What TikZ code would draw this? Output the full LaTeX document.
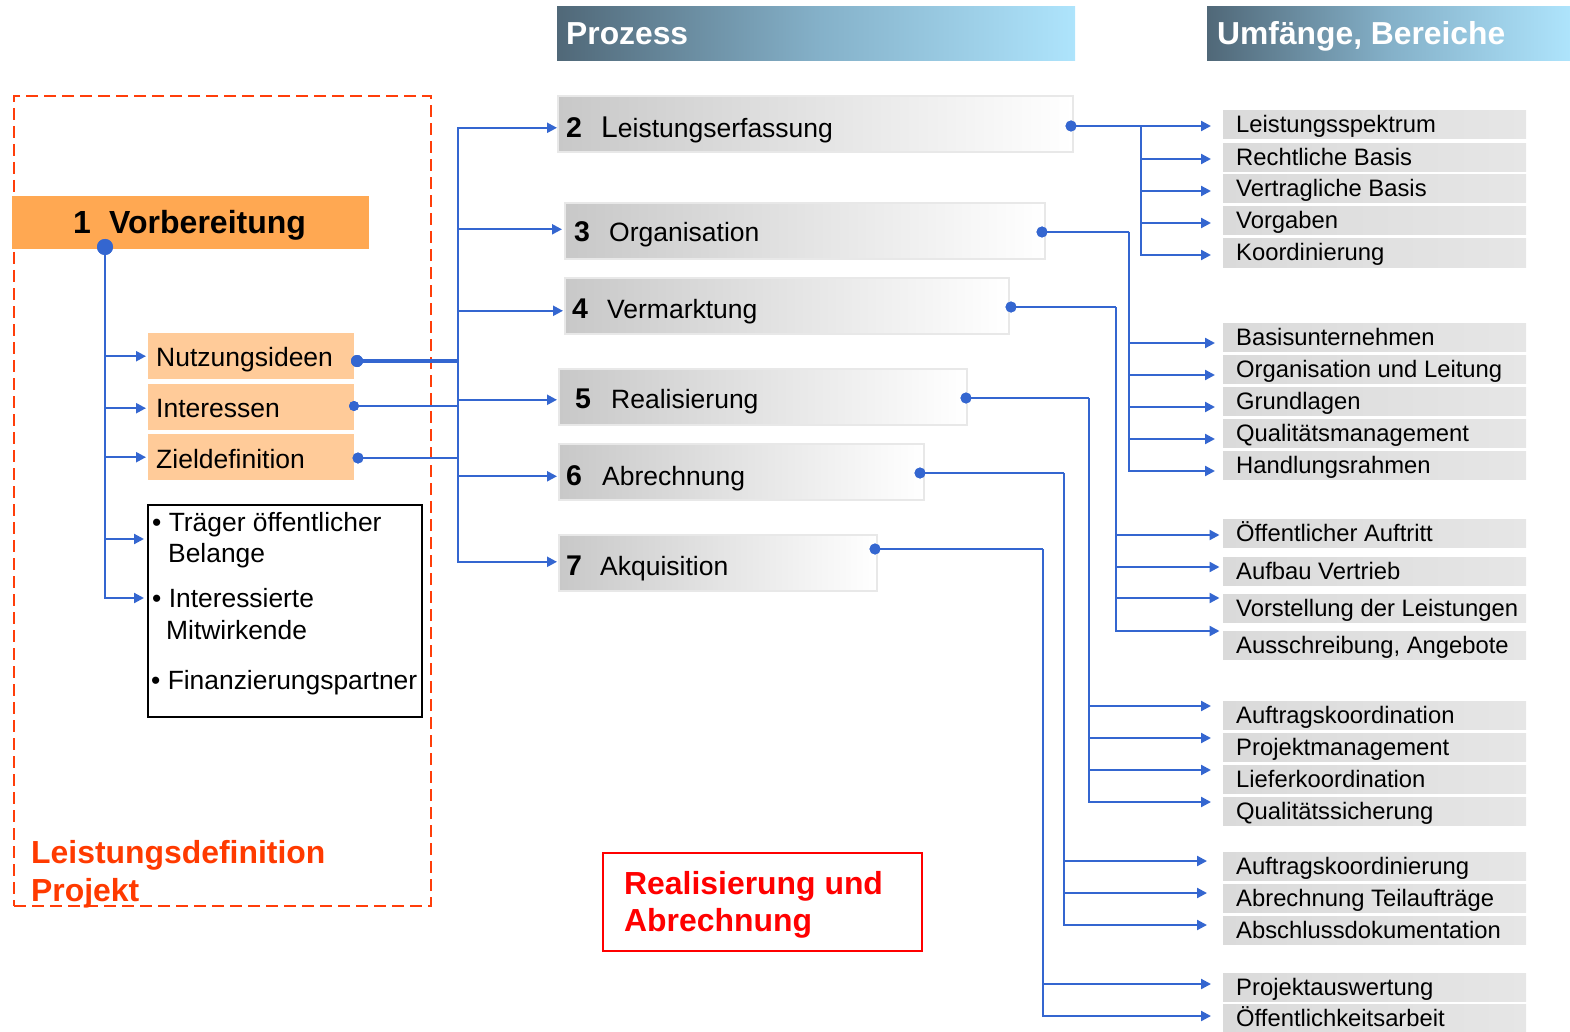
\documentclass[tikz,border=0pt]{standalone}
\usepackage{fontspec}
\setmainfont{Liberation Sans}
\usetikzlibrary{arrows.meta}
\definecolor{lineblue}{RGB}{52,102,208}
\definecolor{dashred}{RGB}{255,62,10}
\definecolor{labelred}{RGB}{255,58,0}
\definecolor{boxred}{RGB}{255,0,0}
\definecolor{orangeA}{RGB}{255,168,82}
\definecolor{orangeB}{RGB}{255,203,153}
\definecolor{hdark}{RGB}{80,104,120}
\definecolor{hmid}{RGB}{132,176,200}
\definecolor{hlight}{RGB}{174,228,252}
\definecolor{pgrey}{RGB}{200,200,200}
\definecolor{pborder}{RGB}{232,232,232}
\definecolor{lgreyA}{RGB}{218,218,218}
\definecolor{lgreyB}{RGB}{230,230,230}
\newcommand\ritem[3]{%
  \node[lbox] (#1) at (1223,#2) {};
  \node[ltext] (#1t) at ([xshift=13pt,yshift=-8pt]#1.west) {#3};}
\begin{document}
\begin{tikzpicture}[x=1pt,y=-1pt,
  conn/.style={draw=lineblue,line width=2.2pt},
  arr/.style={conn,-{Triangle[length=10pt,width=10pt]}},
  bdot/.style={circle,fill=lineblue,inner sep=0pt,minimum size=11pt},
  hdr/.style={anchor=north west,inner sep=0pt,minimum height=54pt,left color=hdark,right color=hlight,middle color=hmid},
  hdrtext/.style={anchor=base west,inner sep=0pt,text=white,font=\fontsize{31.8}{36}\selectfont\bfseries},
  pbox/.style={anchor=north west,inner sep=0pt,minimum height=56pt,left color=pgrey,right color=white,draw=pborder,line width=1.6pt},
  pnum/.style={anchor=base west,inner sep=0pt,font=\fontsize{28.5}{32}\selectfont\bfseries},
  ptext/.style={anchor=base west,inner sep=0pt,font=\fontsize{26.5}{30}\selectfont},
  lbox/.style={anchor=west,inner sep=0pt,minimum height=28pt,minimum width=303pt,left color=lgreyA,right color=lgreyB},
  ltext/.style={anchor=base west,inner sep=0pt,font=\fontsize{23.8}{27}\selectfont},
  obox/.style={anchor=north west,inner sep=0pt,minimum width=206pt,minimum height=46pt,fill=orangeB},
  otext/.style={anchor=base west,inner sep=0pt,font=\fontsize{26.5}{30}\selectfont},
  btext/.style={anchor=base west,inner sep=0pt,font=\fontsize{26.4}{30}\selectfont},
  bigred/.style={anchor=base west,inner sep=0pt,font=\fontsize{31.9}{36}\selectfont\bfseries}
]
\useasboundingbox (0,0) rectangle (1570,1032);

% headers
\node[hdr,minimum width=518pt] (hproz) at (557,6) {};
\node[hdrtext] (hprozt) at (566,45) {Prozess};
\node[hdr,minimum width=363pt] (humf) at (1207,6) {};
\node[hdrtext] (humft) at (1217,45) {Umfänge, Bereiche};

% left frame
\node[anchor=north west,inner sep=0pt,minimum width=417pt,minimum height=810pt,draw=dashred,line width=2pt,dash pattern=on 12pt off 6pt] (frame) at (13,95) {};
\node[bigred,text=labelred] (ld1) at (31,863) {Leistungsdefinition};
\node[bigred,text=labelred] (ld2) at (31,901) {Projekt};

% Vorbereitung
\node[anchor=north west,inner sep=0pt,minimum width=357pt,minimum height=53pt,fill=orangeA] (vorb) at (12,196) {};
\node[anchor=base west,inner sep=0pt,font=\fontsize{32}{36}\selectfont\bfseries] (vorbn) at (73,234) {1};
\node[anchor=base west,inner sep=0pt,font=\fontsize{32}{36}\selectfont\bfseries] (vorbt) at (109,234) {Vorbereitung};

\node[obox] (nutz) at (148,333) {};
\node[otext] (nutzt) at (156,366) {Nutzungsideen};
\node[obox] (inter) at (148,384) {};
\node[otext] (intert) at (156,417) {Interessen};
\node[obox] (ziel) at (148,434) {};
\node[otext] (zielt) at (156,468) {Zieldefinition};

\node[anchor=north west,inner sep=0pt,minimum width=274pt,minimum height=212pt,draw=black,line width=2pt] (traeger) at (147,504) {};
\node[btext] (tr1) at (152,531) {• Träger öffentlicher};
\node[btext] (tr2) at (168,562) {Belange};
\node[btext] (tr3) at (152,607) {• Interessierte};
\node[btext] (tr4) at (166,639) {Mitwirkende};
\node[btext] (tr5) at (151,689) {• Finanzierungspartner};
\coordinate (t1) at (147,539);
\coordinate (t2) at (147,598);

% process boxes
\node[pbox,minimum width=515pt] (p2) at (557,95) {};
\node[pnum] (p2n) at (566,138) {2};
\node[ptext] (p2t) at (601,138) {{\fontsize{30}{32}\selectfont L}eistungserfassung};
\node[pbox,minimum width=480pt] (p3) at (564,202) {};
\node[pnum] (p3n) at (574,242) {3};
\node[ptext] (p3t) at (609,242) {Organisation};
\node[pbox,minimum width=444pt] (p4) at (564,277) {};
\node[pnum] (p4n) at (572,318) {4};
\node[ptext] (p4t) at (607,318) {Vermarktung};
\node[pbox,minimum width=408pt] (p5) at (558,368) {};
\node[pnum] (p5n) at (575,408) {5};
\node[ptext] (p5t) at (611,408) {Realisierung};
\node[pbox,minimum width=365pt] (p6) at (558,443) {};
\node[pnum] (p6n) at (566,485) {6};
\node[ptext] (p6t) at (602,485) {Abrechnung};
\node[pbox,minimum width=318pt] (p7) at (558,534) {};
\node[pnum] (p7n) at (566,575) {7};
\node[ptext] (p7t) at (600,575) {Akquisition};

% red box
\node[anchor=north west,inner sep=0pt,minimum width=319pt,minimum height=98pt,draw=boxred,line width=2pt] (redbox) at (602,852) {};
\node[bigred,text=boxred] (rb1) at (624,894) {Realisierung und};
\node[bigred,text=boxred] (rb2) at (624,931) {Abrechnung};

% right items
\ritem{r11}{125}{Leistungsspektrum}
\ritem{r12}{157.5}{Rechtliche Basis}
\ritem{r13}{189}{Vertragliche Basis}
\ritem{r14}{221}{Vorgaben}
\ritem{r15}{253}{Koordinierung}
\ritem{r21}{337}{Basisunternehmen}
\ritem{r22}{369}{Organisation und Leitung}
\ritem{r23}{401}{Grundlagen}
\ritem{r24}{433}{Qualitätsmanagement}
\ritem{r25}{465}{Handlungsrahmen}
\ritem{r31}{533.5}{Öffentlicher Auftritt}
\ritem{r32}{571}{Aufbau Vertrieb}
\ritem{r33}{608.5}{Vorstellung der Leistungen}
\ritem{r34}{645.5}{Ausschreibung, Angebote}
\ritem{r41}{715}{Auftragskoordination}
\ritem{r42}{747.5}{Projektmanagement}
\ritem{r43}{779}{Lieferkoordination}
\ritem{r44}{811.5}{Qualitätssicherung}
\ritem{r51}{866}{Auftragskoordinierung}
\ritem{r52}{898}{Abrechnung Teilaufträge}
\ritem{r53}{930}{Abschlussdokumentation}
\ritem{r61}{987.5}{Projektauswertung}
\ritem{r62}{1018.5}{Öffentlichkeitsarbeit}

% dots
\node[bdot,minimum size=16pt] (vd) at (105,247) {};
\node[bdot,minimum size=12pt] (nd) at (357,361) {};
\node[bdot,minimum size=10pt] (idt) at (354,406) {};
\node[bdot,minimum size=11pt] (zd) at (358,458) {};
\node[bdot] (d2) at (1071,126) {};
\node[bdot] (d3) at (1042,232) {};
\node[bdot] (d4) at (1011,307) {};
\node[bdot] (d5) at (966,398) {};
\node[bdot] (d6) at (920,473) {};
\node[bdot] (d7) at (875,549) {};

% junctions
\coordinate (bus) at (458,361);
\coordinate (j1) at (1141,126);
\coordinate (j2) at (1129,232);
\coordinate (j3) at (1116,307);
\coordinate (j4) at (1089,398);
\coordinate (j5) at (1064,473);
\coordinate (j6) at (1043,549);

% Vorbereitung connectors
\draw[arr,shorten >=2pt] (vd.center) |- (nutz.west);
\draw[arr,shorten >=2pt] (vd.center) |- ([yshift=-1pt]inter.west);
\draw[arr,shorten >=2pt] (vd.center) |- (ziel.west);
\draw[arr,shorten >=3pt] (vd.center) |- (t1);
\draw[arr,shorten >=3pt] (vd.center) |- (t2);

% to process bus
\draw[conn,line width=3.8pt] (nd.center) -- (bus);
\draw[conn] (idt.center) -- (idt.center -| bus);
\draw[conn] (zd.center) -- (zd.center -| bus);
\draw[arr] (bus) |- ([yshift=-4pt]p2.west);
\draw[arr,shorten >=2pt] (bus) |- ([yshift=1.5pt]p3.west);
\draw[arr,shorten >=1pt] (bus) |- ([yshift=-5pt]p4.west);
\draw[arr,shorten >=1pt] (bus) |- ([yshift=-3pt]p5.west);
\draw[arr,shorten >=1pt] (bus) |- ([yshift=-4.5pt]p6.west);
\draw[arr,shorten >=1pt] (bus) |- ([yshift=1pt]p7.west);

% group 1
\draw[conn] (d2.center) -- (j1);
\draw[arr,shorten >=12pt] (j1) |- ([yshift=-1pt]r11.west);
\draw[arr,shorten >=12pt] (j1) |- ([yshift=-1.5pt]r12.west);
\draw[arr,shorten >=12pt] (j1) |- ([yshift=-2pt]r13.west);
\draw[arr,shorten >=12pt] (j1) |- ([yshift=-2pt]r14.west);
\draw[arr,shorten >=12pt] (j1) |- ([yshift=-2pt]r15.west);
% group 2
\draw[conn] (d3.center) -- (j2);
\draw[arr,shorten >=8pt] (j2) |- ([yshift=-6pt]r21.west);
\draw[arr,shorten >=8pt] (j2) |- ([yshift=-6pt]r22.west);
\draw[arr,shorten >=8pt] (j2) |- ([yshift=-6pt]r23.west);
\draw[arr,shorten >=8pt] (j2) |- ([yshift=-6pt]r24.west);
\draw[arr,shorten >=8pt] (j2) |- ([yshift=-6pt]r25.west);
% group 3
\draw[conn] (d4.center) -- (j3);
\draw[arr,shorten >=3.5pt] (j3) |- ([yshift=-1.5pt]r31.west);
\draw[arr,shorten >=3.5pt] (j3) |- ([yshift=4pt]r32.west);
\draw[arr,shorten >=3.5pt] (j3) |- ([yshift=10.5pt]r33.west);
\draw[arr,shorten >=3.5pt] (j3) |- ([yshift=14.5pt]r34.west);
% group 4
\draw[conn] (d5.center) -- (j4);
\draw[arr,shorten >=12pt] (j4) |- ([yshift=9pt]r41.west);
\draw[arr,shorten >=12pt] (j4) |- ([yshift=9.5pt]r42.west);
\draw[arr,shorten >=12pt] (j4) |- ([yshift=9pt]r43.west);
\draw[arr,shorten >=12pt] (j4) |- ([yshift=9.5pt]r44.west);
% group 5
\draw[conn] (d6.center) -- (j5);
\draw[arr,shorten >=16pt] (j5) |- ([yshift=5pt]r51.west);
\draw[arr,shorten >=16pt] (j5) |- ([yshift=5pt]r52.west);
\draw[arr,shorten >=16pt] (j5) |- ([yshift=5pt]r53.west);
% group 6
\draw[conn] (d7.center) -- (j6);
\draw[arr,shorten >=12pt] (j6) |- ([yshift=3.5pt]r61.west);
\draw[arr,shorten >=12pt] (j6) |- ([yshift=2.5pt]r62.west);

% redraw dots on top
\fill[lineblue] (vd) circle (8pt) (nd) circle (6pt) (idt) circle (5pt) (zd) circle (5.5pt)
  (d2) circle (5.5pt) (d3) circle (5.5pt) (d4) circle (5.5pt) (d5) circle (5.5pt) (d6) circle (5.5pt) (d7) circle (5.5pt);
\end{tikzpicture}
\end{document}
